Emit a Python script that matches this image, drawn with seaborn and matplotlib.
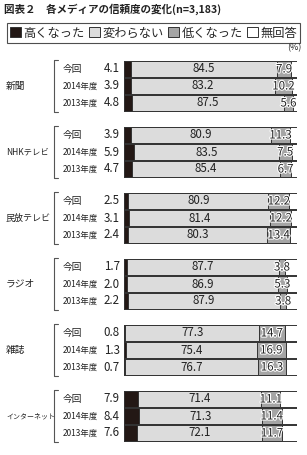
import numpy as np
import pandas as pd
import matplotlib
matplotlib.use("Agg")
import matplotlib.pyplot as plt
import matplotlib.patheffects as pe
from matplotlib.patches import Patch
import seaborn as sns

groups = ['新聞', 'NHKテレビ', '民放テレビ', 'ラジオ', '雑誌', 'インターネット']
periods = ['今回', '2014年度', '2013年度']
high = [4.1, 3.9, 4.8, 3.9, 5.9, 4.7, 2.5, 3.1, 2.4, 1.7, 2.0, 2.2, 0.8, 1.3, 0.7, 7.9, 8.4, 7.6]
same = [84.5, 83.2, 87.5, 80.9, 83.5, 85.4, 80.9, 81.4, 80.3, 87.7, 86.9, 87.9, 77.3, 75.4, 76.7, 71.4, 71.3, 72.1]
low = [7.9, 10.2, 5.6, 11.3, 7.5, 6.7, 12.2, 12.2, 13.4, 3.8, 5.3, 3.8, 14.7, 16.9, 16.3, 11.1, 11.4, 11.7]
legend_labels = ['高くなった', '変わらない', '低くなった', '無回答']
colors = ['#231815', '#dcdcdc', '#a5a5a5', '#ffffff']

sns.set_theme(style='white')
plt.rcParams['font.family'] = ['Noto Sans CJK JP', 'DejaVu Sans']

GAP = 66 / 17.0
rows = []
for g, grp in enumerate(groups):
    for r, per in enumerate(periods):
        i = g * 3 + r
        rows.append(dict(group=grp, period=per, pos=g * GAP + r,
                         high=high[i], same=same[i], low=low[i]))
df = pd.DataFrame(rows)
df['c1'] = df['high']
df['c2'] = df['high'] + df['same']
df['c3'] = df['c2'] + df['low']
df['c4'] = 100.0

fig = plt.figure(figsize=(3.07, 4.55), dpi=100)
W, H = 307, 455
ax_left, ax_right = 124, 297
top_px, bot_px = 52, 450
ax = fig.add_axes([ax_left / W, 1 - bot_px / H, (ax_right - ax_left) / W, (bot_px - top_px) / H])

edge = '#333333'
for col, c in zip(['c4', 'c3', 'c2', 'c1'], colors[::-1]):
    sns.barplot(data=df, x=col, y='pos', orient='h', native_scale=True,
                color=c, saturation=1, width=0.93, edgecolor=edge,
                linewidth=0.7, ax=ax)

ax.set_xlim(0, 100)
ylo = -(69 - top_px) / 17.0
yhi = (bot_px - 69) / 17.0
ax.set_ylim(yhi, ylo)
ax.set_axis_off()

stroke = [pe.withStroke(linewidth=1.6, foreground='white')]
tr = ax.get_yaxis_transform()
for _, row in df.iterrows():
    y = row['pos']
    ax.text((row['c1'] + row['c2']) / 2, y, f"{row['same']:.1f}", ha='center', va='center',
            fontsize=8.3, color='#222222')
    ax.text((row['c2'] + row['c3']) / 2, y, f"{row['low']:.1f}", ha='center', va='center',
            fontsize=8.3, color='#222222', path_effects=stroke)
    ax.text(-0.025, y, f"{row['high']:.1f}", ha='right', va='center', fontsize=8.3,
            color='#222222', transform=tr)
    px = (63 - ax_left) / (ax_right - ax_left)
    fs = 7 if row['period'] == '今回' else 6
    ax.text(px, y, row['period'], ha='left', va='center', fontsize=fs,
            color='#222222', transform=tr)

bx = (54 - ax_left) / (ax_right - ax_left)
bx2 = (58 - ax_left) / (ax_right - ax_left)
gx = (6 - ax_left) / (ax_right - ax_left)
gsizes = {'新聞': 7, 'NHKテレビ': 6, '民放テレビ': 6.5, 'ラジオ': 7, '雑誌': 7, 'インターネット': 5}
for g, grp in enumerate(groups):
    y0 = g * GAP - 0.55
    y1 = g * GAP + 2.55
    ax.plot([bx2, bx, bx, bx2], [y0, y0, y1, y1], color='#555555', lw=0.8,
            transform=tr, clip_on=False)
    ax.text(gx, g * GAP + 1, grp, ha='left', va='center', fontsize=gsizes.get(grp, 6.5),
            color='#222222', transform=tr)

fig.text(4 / W, 1 - 9 / H, '図表２　各メディアの信頼度の変化(n=3,183)', ha='left', va='center',
         fontsize=7.6, fontweight='bold', color='#222222')
fig.text(301 / W, 1 - 48 / H, '(%)', ha='right', va='center', fontsize=6.5, color='#222222')

handles = [Patch(facecolor=c, edgecolor='#333333', linewidth=0.7) for c in colors]
leg = fig.legend(handles, legend_labels, loc='center', ncol=4, mode='expand',
                 bbox_to_anchor=(7 / W, 1 - 43 / H, 293 / W, 20 / H),
                 frameon=True, fancybox=False, fontsize=8.8, handlelength=0.9,
                 handleheight=0.9, handletextpad=0.2, columnspacing=0.4,
                 borderpad=0.25, borderaxespad=0)
leg.get_frame().set_edgecolor('#222222')
leg.get_frame().set_linewidth(0.8)

fig.savefig('out.png', dpi=100)
